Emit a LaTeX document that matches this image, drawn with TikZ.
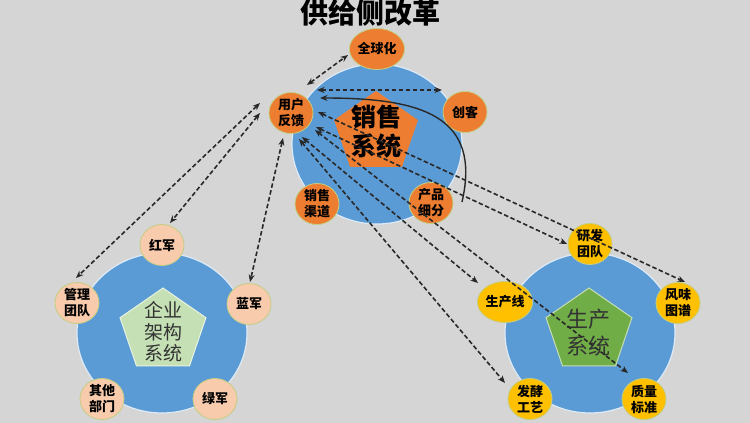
\documentclass[tikz,border=0pt]{standalone}
\usepackage{fontspec}
\setmainfont{Noto Sans CJK SC}
\usetikzlibrary{arrows.meta,shapes.geometric}
\definecolor{bg}{RGB}{213,213,213}
\definecolor{blue1}{RGB}{91,155,213}
\definecolor{orange1}{RGB}{237,125,49}
\definecolor{lorange}{RGB}{248,203,173}
\definecolor{yellow1}{RGB}{255,192,0}
\definecolor{green1}{RGB}{112,173,71}
\definecolor{lgreen}{RGB}{197,224,180}
\definecolor{satline}{RGB}{196,206,130}
\definecolor{darkline}{RGB}{40,40,40}
\begin{document}
\begin{tikzpicture}[x=1pt,y=-1pt,
  sat/.style={ellipse, minimum width=44pt, minimum height=41pt, inner sep=0pt,
    draw=satline, line width=0.8pt, align=center,
    font=\fontsize{13}{16}\selectfont\bfseries},
  satO/.style={sat, fill=orange1},
  satL/.style={sat, fill=lorange},
  satY/.style={sat, fill=yellow1},
  sys/.style={ellipse, minimum width=170pt, minimum height=160pt, inner sep=0pt,
    fill=blue1, draw=white!80!blue1, line width=1.2pt},
  tipS/.tip={Stealth[length=7.5pt,width=6pt]},
  dar/.style={tipS-tipS, draw=darkline, line width=1.6pt, dash pattern=on 4.5pt off 2.5pt},
  sol/.style={-tipS, draw=darkline, line width=1.4pt}
]
\useasboundingbox (0,0) rectangle (750,423);
\fill[bg] (0,0) rectangle (750,423);

% title
\node[font=\fontsize{28}{30}\selectfont\bfseries] (title) at (370,13) {供给侧改革};

% system circles
\node[sys] (topS) at (377,144) {};
\node[sys] (leftS) at (162,333) {};
\node[sys] (rightS) at (590,333) {};

% pentagons
\fill[orange1, shift={(376,133)}, xscale=1.05]
  (-90:42) -- (-18:42) -- (54:42) -- (126:42) -- (198:42) -- cycle;
\filldraw[fill=lgreen, draw=white!60!lgreen, line width=1pt, shift={(163,331)}, xscale=1.05]
  (-90:43) -- (-18:43) -- (54:43) -- (126:43) -- (198:43) -- cycle;
\filldraw[fill=green1, draw=white!60!green1, line width=1pt, shift={(589,331)}, xscale=1.05]
  (-90:43) -- (-18:43) -- (54:43) -- (126:43) -- (198:43) -- cycle;

\node[font=\fontsize{25}{29}\selectfont\bfseries, align=center] (xsT) at (376,132) {销售\\系统};
\node[font=\fontsize{19}{21.5}\selectfont, text=black!80, align=center] (qyT) at (163,332) {企业\\架构\\系统};
\node[font=\fontsize{22}{27}\selectfont, text=black!80, align=center] (scT) at (588,333) {生产\\系统};

% top satellites
\node[satO] (gl) at (377,49) {全球化};
\node[satO] (ck) at (465,112) {创客};
\node[satO] (fb) at (291,113) {用户\\反馈};
\node[satO] (xq) at (317,204) {销售\\渠道};
\node[satO] (pd) at (431,203) {产品\\细分};

% left satellites
\node[satL] (hj) at (162,245) {红军};
\node[satL] (mt) at (77,303) {管理\\团队};
\node[satL] (lj) at (249,304) {蓝军};
\node[satL] (qt) at (102,399) {其他\\部门};
\node[satL] (lv) at (215,399) {绿军};

% right satellites
\node[satY] (yf) at (590,244) {研发\\团队};
\node[satY] (fw) at (678,303) {风味\\图谱};
\node[satY] (sc) at (505,302) {生产线};
\node[satY] (fj) at (530,399) {发酵\\工艺};
\node[satY] (zl) at (644,399) {质量\\标准};

% connectors
\draw[dar] ([shift={(16pt,28pt)}]fb.center) -- ([shift={(-29pt,-6pt)}]gl.center);
\draw[dar] ([shift={(26pt,23pt)}]fb.center) -- ([shift={(-23pt,22pt)}]ck.center);
\draw[sol] ([shift={(31pt,1pt)}]pd.center) .. controls (482,115) and (420,98) .. ([shift={(29pt,15pt)}]fb.center);
\draw[dar] ([shift={(-31pt,10pt)}]fb.center) -- ([shift={(-1pt,25pt)}]mt.center);
\draw[dar] ([shift={(-31pt,0pt)}]fb.center) -- ([shift={(8pt,22pt)}]hj.center);
\draw[dar] ([shift={(-8pt,-25pt)}]fb.center) -- ([shift={(1pt,22pt)}]lj.center);
\draw[dar] ([shift={(27pt,1pt)}]fb.center) -- ([shift={(7pt,21pt)}]fw.center);
\draw[dar] ([shift={(25pt,-14pt)}]fb.center) -- ([shift={(-23pt,0pt)}]yf.center);
\draw[dar] ([shift={(24pt,-17pt)}]fb.center) -- ([shift={(-16pt,26pt)}]zl.center);
\draw[dar] ([shift={(11pt,-24pt)}]fb.center) -- ([shift={(-27pt,19pt)}]sc.center);
\draw[dar] ([shift={(8pt,-26pt)}]fb.center) -- ([shift={(-25pt,16pt)}]fj.center);
\end{tikzpicture}
\end{document}
